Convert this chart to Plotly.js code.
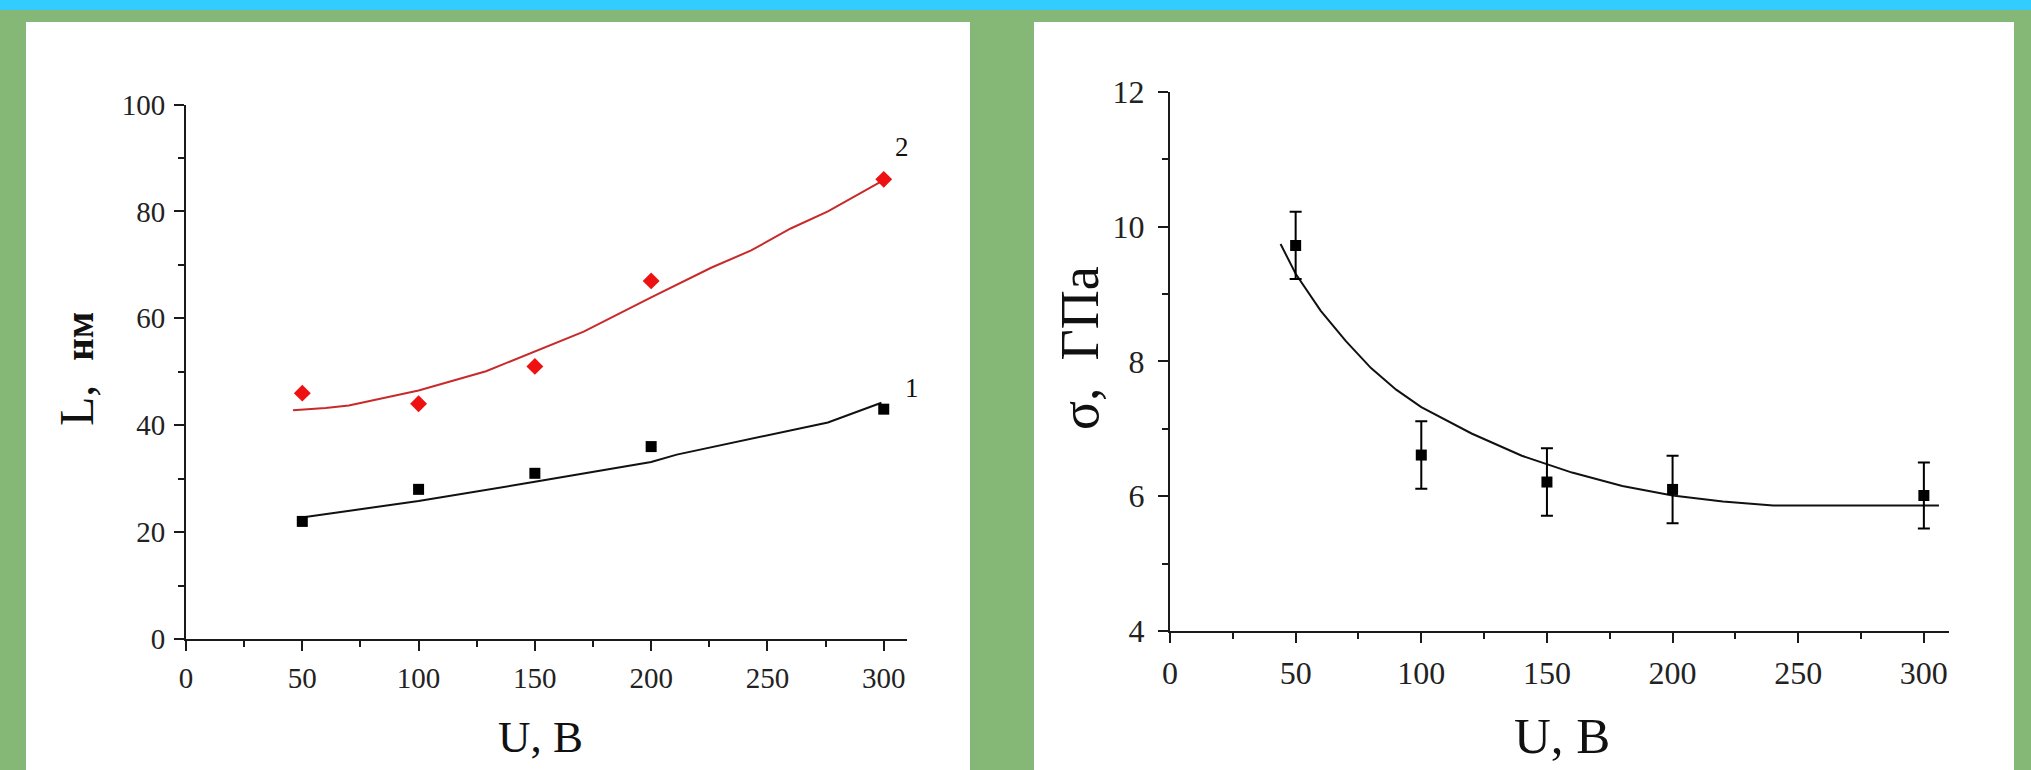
<!DOCTYPE html>
<html>
<head>
<meta charset="utf-8">
<script src="https://cdn.plot.ly/plotly-3.0.1.min.js"></script>
<style>
  html, body { margin: 0; padding: 0; background: #85b777; }
  #chart { width: 2031px; height: 770px; }
</style>
</head>
<body>
<div id="chart"></div>
<script>
// ---- Data ----
const voltage = [50, 100, 150, 200, 300];            // U, B
const grainSize1 = [22, 28, 31, 36, 43];              // curve 1, L (нм)
const grainSize2 = [46, 44, 51, 67, 86];              // curve 2, L (нм)
const fit1U = [49, 100, 150, 200, 211, 251, 276, 299];
const fit1L = [22.7, 25.8, 29.4, 33.1, 34.5, 38.2, 40.5, 44.2];
const fit2U = [46, 60, 70, 100, 129, 150, 171, 200, 226, 243, 260, 276, 299];
const fit2L = [42.8, 43.2, 43.7, 46.5, 50.1, 53.8, 57.5, 63.9, 69.5, 72.7, 76.8, 80.0, 85.6];
const stress = [9.72, 6.61, 6.21, 6.10, 6.01];        // σ, ГПа
const stressErr = [0.5, 0.5, 0.5, 0.5, 0.49];
const fitSU = [44, 50, 60, 70, 80, 90, 100, 120, 140, 160, 180, 200, 220, 240, 260, 280, 306];
const fitS = [9.74, 9.30, 8.75, 8.30, 7.90, 7.58, 7.32, 6.93, 6.60, 6.35, 6.15, 6.01, 5.92, 5.86, 5.86, 5.86, 5.86];
const curveLabels = ['1', '2'];
const xTitle = 'U, B';
const yTitleLeft = 'L,  <b><span style="font-size:39px">нм</span></b>';
const yTitleRight = 'σ,  ГПа';

// ---- Helpers ----
const W = 2031, H = 770;
const px = v => v / W;
const py = v => 1 - v / H;
const serif = "'Liberation Serif', 'Times New Roman', serif";
const ink = '#1a1a1a';

const traces = [
  {x: fit1U, y: fit1L, mode: 'lines', line: {color: '#111', width: 2}, xaxis: 'x', yaxis: 'y', hoverinfo: 'skip'},
  {x: fit2U, y: fit2L, mode: 'lines', line: {color: '#c82a2a', width: 2}, xaxis: 'x', yaxis: 'y', hoverinfo: 'skip'},
  {x: voltage, y: grainSize1, mode: 'markers', marker: {symbol: 'square', size: 11, color: '#000'}, xaxis: 'x', yaxis: 'y'},
  {x: voltage, y: grainSize2, mode: 'markers', marker: {symbol: 'diamond', size: 13, color: '#ee1111'}, xaxis: 'x', yaxis: 'y'},
  {x: fitSU, y: fitS, mode: 'lines', line: {color: '#111', width: 2}, xaxis: 'x2', yaxis: 'y2', hoverinfo: 'skip'},
  {x: voltage, y: stress, mode: 'markers', marker: {symbol: 'square', size: 11, color: '#000'},
   error_y: {type: 'data', array: stressErr, visible: true, color: '#000', thickness: 2, width: 6},
   xaxis: 'x2', yaxis: 'y2'}
];

function axisCommon(extra) {
  return Object.assign({
    showline: true, linecolor: ink, linewidth: 2, mirror: false,
    showgrid: false, zeroline: false,
    ticks: 'outside', ticklen: 10, tickwidth: 2, tickcolor: ink,
    tickfont: {family: serif, size: 29, color: '#222'},
    fixedrange: true
  }, extra);
}

const layout = {
  width: W, height: H,
  margin: {l: 0, r: 0, t: 0, b: 0, pad: 0},
  paper_bgcolor: '#85b777',
  plot_bgcolor: 'rgba(0,0,0,0)',
  showlegend: false,
  xaxis: axisCommon({
    domain: [px(186), px(907)], range: [0, 310], anchor: 'y',
    tickmode: 'linear', tick0: 0, dtick: 50, ticklabelstandoff: 2,
    minor: {ticks: 'outside', ticklen: 6, tickwidth: 2, tickcolor: ink, tick0: 0, dtick: 25}
  }),
  yaxis: axisCommon({
    domain: [py(639), py(104.5)], range: [0, 100], anchor: 'x',
    tickmode: 'linear', tick0: 0, dtick: 20, ticklabelstandoff: 3,
    minor: {ticks: 'outside', ticklen: 6, tickwidth: 2, tickcolor: ink, tick0: 0, dtick: 10}
  }),
  xaxis2: axisCommon({
    domain: [px(1170), px(1949)], range: [0, 310], anchor: 'y2',
    tickmode: 'linear', tick0: 0, dtick: 50, ticklabelstandoff: 3,
    tickfont: {family: serif, size: 32, color: '#222'},
    minor: {ticks: 'outside', ticklen: 6, tickwidth: 2, tickcolor: ink, tick0: 0, dtick: 25}
  }),
  yaxis2: axisCommon({
    domain: [py(631), py(91.7)], range: [4, 12], anchor: 'x2',
    tickmode: 'linear', tick0: 4, dtick: 2, ticklabelstandoff: 7,
    tickfont: {family: serif, size: 32, color: '#222'},
    minor: {ticks: 'outside', ticklen: 6, tickwidth: 2, tickcolor: ink, tick0: 4, dtick: 1}
  }),
  shapes: [
    {type: 'rect', xref: 'paper', yref: 'paper', x0: -0.01, x1: 1.01, y0: py(10), y1: 1.01,
     fillcolor: '#33ccff', line: {width: 0}, layer: 'below'},
    {type: 'rect', xref: 'paper', yref: 'paper', x0: px(26), x1: px(970), y0: -0.02, y1: py(22),
     fillcolor: '#ffffff', line: {width: 0}, layer: 'below'},
    {type: 'rect', xref: 'paper', yref: 'paper', x0: px(1034), x1: px(2014), y0: -0.02, y1: py(22),
     fillcolor: '#ffffff', line: {width: 0}, layer: 'below'}
  ],
  annotations: [
    {xref: 'paper', yref: 'paper', x: px(540), y: py(737), text: xTitle, showarrow: false,
     xanchor: 'center', yanchor: 'middle', font: {family: serif, size: 45, color: '#111'}},
    {xref: 'paper', yref: 'paper', x: px(1562), y: py(736), text: xTitle, showarrow: false,
     xanchor: 'center', yanchor: 'middle', font: {family: serif, size: 51, color: '#111'}},
    {xref: 'paper', yref: 'paper', x: px(76), y: py(369), text: yTitleLeft, showarrow: false, textangle: -90,
     xanchor: 'center', yanchor: 'middle', font: {family: serif, size: 48, color: '#111'}},
    {xref: 'paper', yref: 'paper', x: px(1080), y: py(348), text: yTitleRight, showarrow: false, textangle: -90,
     xanchor: 'center', yanchor: 'middle', font: {family: serif, size: 54, color: '#111'}},
    {xref: 'x', yref: 'y', x: 300, y: 46.9, xshift: 28, text: curveLabels[0], showarrow: false,
     xanchor: 'center', yanchor: 'middle', font: {family: serif, size: 27, color: '#111'}},
    {xref: 'x', yref: 'y', x: 300, y: 92, xshift: 18, text: curveLabels[1], showarrow: false,
     xanchor: 'center', yanchor: 'middle', font: {family: serif, size: 27, color: '#111'}}
  ]
};

Plotly.newPlot('chart', traces, layout, {displayModeBar: false, staticPlot: true});
</script>
</body>
</html>
